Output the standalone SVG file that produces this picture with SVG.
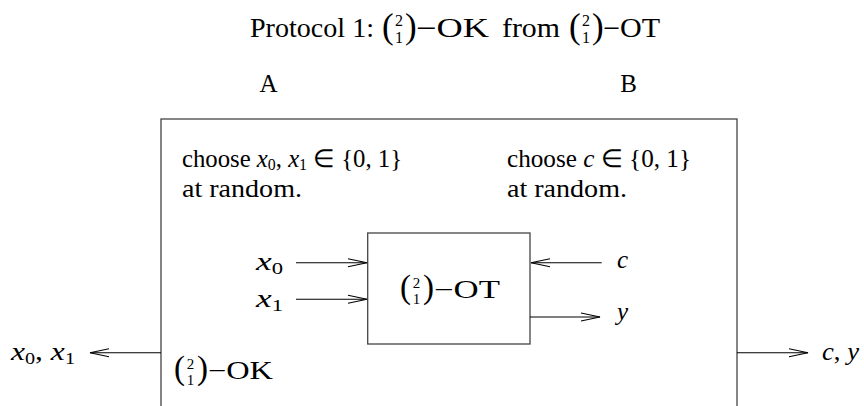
<svg xmlns="http://www.w3.org/2000/svg" width="864" height="406" viewBox="0 0 864 406">
<style>
text{font-family:"Liberation Serif","Times New Roman",serif;fill:#000}
.t{font-size:25px}
.tt{font-size:27px}
.i{font-style:italic}
.par{font-size:33px}
.part{font-size:35px}
.dg{font-size:15px}
.dgt{font-size:16px}
.sub{font-size:16px}
.box{fill:none;stroke:#444;stroke-width:1.3}
.arr{fill:none;stroke:#000;stroke-width:1.1;marker-end:url(#ah)}
</style>
<defs>
<marker id="ah" viewBox="-21 -5 22 10" refX="0" refY="0" markerWidth="22" markerHeight="10" markerUnits="userSpaceOnUse" orient="auto">
<path d="M-19,-4 L0,0 L-19,4" fill="none" stroke="#000" stroke-width="1.1"/>
</marker>
</defs>
<rect width="864" height="406" fill="#fff"/>

<g id="title">
<text class="tt" x="250" y="37" textLength="124" lengthAdjust="spacingAndGlyphs">Protocol 1:</text>
<text class="part" x="382" y="38">(</text>
<text class="dgt" x="399" y="26" text-anchor="middle">2</text>
<text class="dgt" x="399" y="43" text-anchor="middle">1</text>
<text class="part" x="405" y="38">)</text>
<text class="tt" x="416" y="37" textLength="73" lengthAdjust="spacingAndGlyphs">−OK</text>
<text class="tt" x="502" y="37" textLength="58" lengthAdjust="spacingAndGlyphs">from</text>
<text class="part" x="569" y="38">(</text>
<text class="dgt" x="586" y="26" text-anchor="middle">2</text>
<text class="dgt" x="586" y="43" text-anchor="middle">1</text>
<text class="part" x="592" y="38">)</text>
<text class="tt" x="603" y="37" textLength="57" lengthAdjust="spacingAndGlyphs">−OT</text>
</g>

<g id="label-A"><text class="t" x="268.5" y="92" text-anchor="middle">A</text></g>
<g id="label-B"><text class="t" x="628.5" y="92" text-anchor="middle">B</text></g>

<g id="protocol-box">
<rect class="box" x="161" y="119" width="576" height="320"/>
<text class="t" x="182" y="167" textLength="220" lengthAdjust="spacingAndGlyphs">choose <tspan class="i">x</tspan><tspan class="sub" dy="3">0</tspan><tspan dy="-3">, </tspan><tspan class="i">x</tspan><tspan class="sub" dy="3">1</tspan><tspan dy="-3"> ∈ {0, 1}</tspan></text>
<text class="t" x="182" y="196.5" textLength="120" lengthAdjust="spacingAndGlyphs">at random.</text>
<text class="t" x="507" y="167" textLength="184" lengthAdjust="spacingAndGlyphs">choose <tspan class="i">c</tspan> ∈ {0, 1}</text>
<text class="t" x="507" y="196.5" textLength="120" lengthAdjust="spacingAndGlyphs">at random.</text>
<text class="par" x="174" y="379">(</text>
<text class="dg" x="190.5" y="369" text-anchor="middle">2</text>
<text class="dg" x="190.5" y="385" text-anchor="middle">1</text>
<text class="par" x="197" y="379">)</text>
<text class="t" x="208" y="379" textLength="65" lengthAdjust="spacingAndGlyphs">−OK</text>
</g>

<g id="ot-box">
<rect class="box" x="367.7" y="233" width="162.3" height="111"/>
<text class="par" x="400" y="298">(</text>
<text class="dg" x="416.5" y="288" text-anchor="middle">2</text>
<text class="dg" x="416.5" y="304" text-anchor="middle">1</text>
<text class="par" x="423" y="298">)</text>
<text class="t" x="434" y="298" textLength="66" lengthAdjust="spacingAndGlyphs">−OT</text>
</g>

<g id="io-labels">
<text class="t" x="256" y="270" textLength="27" lengthAdjust="spacingAndGlyphs"><tspan class="i">x</tspan><tspan class="sub" dy="4">0</tspan></text>
<text class="t" x="256" y="307" textLength="27" lengthAdjust="spacingAndGlyphs"><tspan class="i">x</tspan><tspan class="sub" dy="4">1</tspan></text>
<text class="t i" x="617" y="268">c</text>
<text class="t i" x="617" y="320">y</text>
<text class="t" x="11" y="360" textLength="64" lengthAdjust="spacingAndGlyphs"><tspan class="i">x</tspan><tspan class="sub" dy="4">0</tspan><tspan dy="-4">, </tspan><tspan class="i">x</tspan><tspan class="sub" dy="4">1</tspan></text>
<text class="t" x="822" y="360" textLength="37" lengthAdjust="spacingAndGlyphs"><tspan class="i">c</tspan>, <tspan class="i">y</tspan></text>
</g>

<g id="connectors">
<path class="arr" d="M296,262.7 H367"/>
<path class="arr" d="M296,299.3 H367"/>
<path class="arr" d="M601.7,262.7 H531"/>
<path class="arr" d="M530,317 H600"/>
<path class="arr" d="M161,352.7 H90"/>
<path class="arr" d="M737,352.7 H808"/>
</g>
</svg>
